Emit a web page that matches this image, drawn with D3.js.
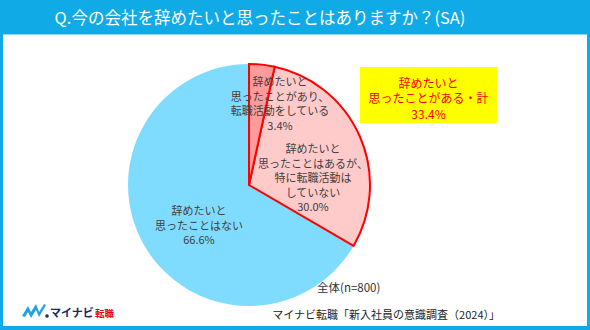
<!DOCTYPE html>
<meta charset="utf-8">
<style>
    body { margin: 0; background: #fff; }
    text { font-family: "Noto Sans CJK JP", "Noto Sans", sans-serif; }
</style>
<div id="my_dataviz"></div>
<script src="https://d3js.org/d3.v7.min.js"></script>
<script>

    // data
    var categories = ["辞めたいと思ったことがあり、転職活動をしている",
                      "辞めたいと思ったことはあるが、特に転職活動はしていない",
                      "辞めたいと思ったことはない"];
    var values = [3.4, 30.0, 66.6];
    var labelLines = [
        ["辞めたいと", "思ったことがあり、", "転職活動をしている", "3.4%"],
        ["辞めたいと", "思ったことはあるが、", "特に転職活動は", "していない", "30.0%"],
        ["辞めたいと", "思ったことはない", "66.6%"]
    ];
    var totalLines = ["辞めたいと", "思ったことがある・計", "33.4%"];
    var title = "Q.今の会社を辞めたいと思ったことはありますか？(SA)";
    var sampleNote = "全体(n=800)";
    var source = "マイナビ転職「新入社員の意識調査（2024）」";

    var width = 590, height = 330;
    var cx = 249, cy = 185, radius = 121;

    var svg = d3.select("#my_dataviz")
        .append("svg")
        .attr("width", width)
        .attr("height", height);

    // frame + title bar
    svg.append("rect").attr("x", 0).attr("y", 0).attr("width", width).attr("height", height).attr("fill", "#10abe7");
    svg.append("rect").attr("x", 3).attr("y", 35).attr("width", width - 6).attr("height", height - 35 - 4).attr("fill", "#fff");
    svg.append("line").attr("x1", 3).attr("x2", width - 3).attr("y1", 34.5).attr("y2", 34.5)
        .attr("stroke", "#8fd8f5").attr("stroke-width", 1);

    svg.append("text")
        .attr("x", 260).attr("y", 24)
        .attr("text-anchor", "middle")
        .attr("fill", "#fff")
        .style("font-size", "16.5px")
        .text(title);

    // pie
    var fills = ["#ff9b9b", "#ffcaca", "#80dcfe"];
    var strokes = ["#ff0000", "#ff0000", "none"];
    var pie = d3.pie().sort(null).value(function (d) { return d; });
    var arc = d3.arc().innerRadius(0).outerRadius(radius);
    var arcs = pie(values);

    var g = svg.append("g").attr("transform", "translate(" + cx + "," + cy + ")");
    // blue slice first so the red outlines sit on top
    g.selectAll("path.slice")
        .data([arcs[2], arcs[1], arcs[0]])
        .enter()
        .append("path")
        .attr("class", "slice")
        .attr("d", arc)
        .attr("fill", function (d) { return fills[d.index]; })
        .attr("stroke", function (d) { return strokes[d.index]; })
        .attr("stroke-width", 2)
        .attr("stroke-linejoin", "miter");

    // labels
    var labelPos = [[280, 82], [313, 149], [199, 211]];
    labelLines.forEach(function (lines, i) {
        var t = svg.append("text")
            .attr("text-anchor", "middle")
            .attr("fill", "#404040")
            .style("font-size", "11px");
        lines.forEach(function (l, j) {
            t.append("tspan")
                .attr("x", labelPos[i][0])
                .attr("y", labelPos[i][1] + j * 14.5 + 4)
                .text(l);
        });
    });

    // total box
    svg.append("rect").attr("x", 360).attr("y", 67).attr("width", 137).attr("height", 56).attr("fill", "#ffff00");
    var tt = svg.append("text").attr("text-anchor", "middle").attr("fill", "#ff0000").style("font-size", "12px");
    totalLines.forEach(function (l, j) {
        tt.append("tspan").attr("x", 428.5).attr("y", 83 + j * 15.5 + 4.5).text(l);
    });

    svg.append("text").attr("x", 317).attr("y", 292).attr("fill", "#333")
        .style("font-size", "11.5px").text(sampleNote);

    svg.append("text").attr("x", 500).attr("y", 319).attr("text-anchor", "end").attr("fill", "#222")
        .style("font-size", "11px").text(source);

    // logo
    var logo = svg.append("g").attr("transform", "translate(22,302)");
    logo.append("path")
        .attr("d", "M0,14 L6,4 L9,10 L14,2 L17,10 L22,2 L24,3 L17,15 L14,8 L9,16 L6,10 L3,15 Z")
        .attr("fill", "#1fa3e5");
    logo.append("circle").attr("cx", 25).attr("cy", 14).attr("r", 1.8).attr("fill", "#1a2b5e");
    logo.append("text").attr("x", 28).attr("y", 15).attr("fill", "#1a2b5e")
        .style("font-size", "11px").style("font-weight", "bold").text("マイナビ");
    logo.append("text").attr("x", 73).attr("y", 15).attr("fill", "#e60012")
        .style("font-size", "9.5px").style("font-weight", "bold").text("転職");

</script>
